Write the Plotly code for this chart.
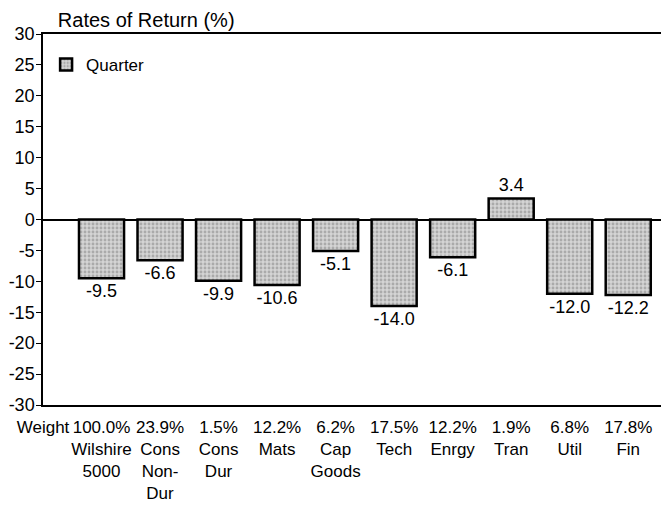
import plotly.graph_objects as go

categories = ["Weight", "100.0%<br>Wilshire<br>5000", "23.9%<br>Cons<br>Non-<br>Dur",
              "1.5%<br>Cons<br>Dur", "12.2%<br>Mats", "6.2%<br>Cap<br>Goods",
              "17.5%<br>Tech", "12.2%<br>Enrgy", "1.9%<br>Tran", "6.8%<br>Util", "17.8%<br>Fin"]
quarter = [-9.5, -6.6, -9.9, -10.6, -5.1, -14.0, -6.1, 3.4, -12.0, -12.2]
labels = ["-9.5", "-6.6", "-9.9", "-10.6", "-5.1", "-14.0", "-6.1", "3.4", "-12.0", "-12.2"]
yticks = list(range(-30, 31, 5))

FONT = "Liberation Sans, Arial, sans-serif"

fig = go.Figure()
fig.add_trace(go.Bar(
    x=list(range(1, len(quarter) + 1)), y=quarter, name="Quarter",
    width=0.77, text=labels, textposition="outside", cliponaxis=False,
    textfont=dict(size=18, color="black", family=FONT),
    marker=dict(color="#d0d0d0", line=dict(color="black", width=2.5),
                pattern=dict(shape=".", fgcolor="#808080", bgcolor="#d4d4d4",
                             size=4, solidity=0.4)),
    showlegend=True,
))

fig.update_layout(
    width=661, height=507,
    margin=dict(l=43, r=0, t=34, b=102, autoexpand=False),
    paper_bgcolor="white", plot_bgcolor="white",
    font=dict(family=FONT, color="black", size=17),
    title=dict(text="Rates of Return (%)", x=0.024, xref="paper", xanchor="left",
               y=1 - 20 / 507, yref="container", yanchor="middle",
               font=dict(size=20, family=FONT, color="black")),
    legend=dict(x=0.005, y=0.965, xanchor="left", yanchor="top",
                bgcolor="rgba(0,0,0,0)", font=dict(size=17, family=FONT)),
    showlegend=True,
    bargap=0.23,
)
fig.update_xaxes(
    range=[0, 10.56], tickvals=list(range(0, 11)), ticktext=categories,
    showline=True, linecolor="black", linewidth=1.5, mirror=True,
    showgrid=False, zeroline=False, ticks="", tickfont=dict(size=17),
    tickangle=0, automargin=False, ticklabelstandoff=6,
)
fig.update_yaxes(
    range=[-30, 30], tickvals=yticks, ticktext=[str(v) for v in yticks],
    showline=True, linecolor="black", linewidth=1.5, automargin=False,
    showgrid=False, zeroline=True, zerolinecolor="black", zerolinewidth=1.5,
    ticks="outside", ticklen=5, tickcolor="black", tickfont=dict(size=18),
    ticklabelstandoff=-2,
)

fig.write_html("out.html", config={"displayModeBar": False},
               post_script="document.body.style.margin='0px';document.body.style.overflow='hidden';")
